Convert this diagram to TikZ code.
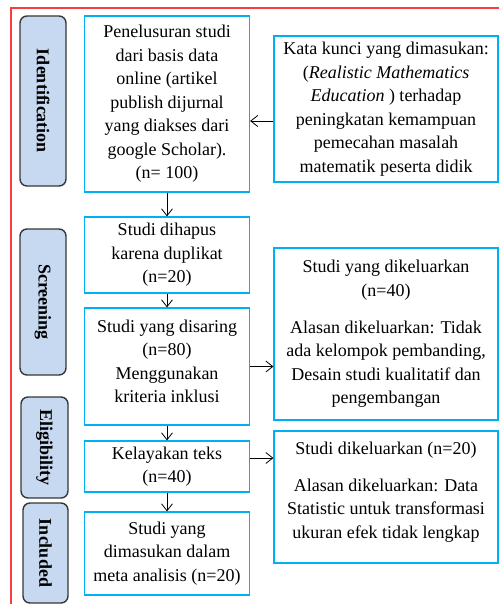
\documentclass[tikz,border=0pt]{standalone}
\usepackage{fontspec}
\setmainfont{Liberation Serif}
\usetikzlibrary{arrows.meta,positioning}

\definecolor{boxcyan}{RGB}{0,176,240}
\definecolor{stagefill}{RGB}{198,217,241}
\definecolor{stageline}{RGB}{55,55,55}
\definecolor{framered}{RGB}{250,60,60}

\begin{document}
\begin{tikzpicture}[x=1pt,y=-1pt]
\tikzstyle{stage}=[draw=stageline,fill=stagefill,line width=1.4pt,rounded corners=7pt,inner sep=0pt,font=\fontsize{18}{20}\selectfont\bfseries]
\tikzstyle{flowbox}=[draw=boxcyan,line width=1.2pt,inner sep=0pt,align=center,font=\fontsize{18}{23.5}\selectfont]
\tikzstyle{flow}=[-{Straight Barb[length=7pt,width=11pt]},line width=0.8pt]

\useasboundingbox (0,0) rectangle (499,604);

%% ========== FRAME ==========
\draw[framered,line width=1.2pt] (499,8) -- (11,8) -- (11,604);

%% ========== STAGES ==========
\node[stage,rotate=-90,minimum width=170pt,minimum height=46pt] (stage-id) at (43,101) {Identification};
\node[stage,rotate=-90,minimum width=146pt,minimum height=46pt] (stage-scr) at (43,302) {Screening};
\node[stage,rotate=-90,minimum width=101pt,minimum height=47pt] (stage-elig) at (44.5,447.5) {Eligibility};
\node[stage,rotate=-90,minimum width=100pt,minimum height=45pt] (stage-inc) at (45.5,553) {Included};

%% ========== MAIN FLOW ==========
\node[flowbox,minimum width=165pt,minimum height=176pt] (search) at (167,104)
  {Penelusuran studi\\dari basis data\\online (artikel\\publish dijurnal\\yang diakses dari\\google Scholar).\\(n= 100)};
\node[flowbox,minimum width=165pt,minimum height=76pt] (dup) at (167,255)
  {Studi dihapus\\karena duplikat\\(n=20)};
\node[flowbox,minimum width=165pt,minimum height=117pt,text depth=10pt] (screened) at (167,366.5)
  {Studi yang disaring\\(n=80)\\Menggunakan\\kriteria inklusi};
\node[flowbox,minimum width=165pt,minimum height=51pt] (fulltext) at (167,466.5)
  {Kelayakan teks\\(n=40)};
\node[flowbox,minimum width=165pt,minimum height=83pt] (included) at (167,553.5)
  {Studi yang\\dimasukan dalam\\meta analisis (n=20)};

%% ========== SIDE BOXES ==========
\node[flowbox,minimum width=224pt,minimum height=146pt] (keywords) at (386,109)
  {Kata kunci yang dimasukan:\\(\textit{Realistic Mathematics}\\\textit{Education} ) terhadap\\peningkatan kemampuan\\pemecahan masalah\\matematik peserta didik};
\node[flowbox,minimum width=224pt,minimum height=172pt] (excl-screen) at (386,334)
  {Studi yang dikeluarkan\\(n=40)\\[13.5pt]Alasan dikeluarkan: Tidak\\ada kelompok pembanding,\\Desain studi kualitatif dan\\pengembangan};
\node[flowbox,minimum width=224pt,minimum height=132pt,text depth=14pt] (excl-text) at (386,497)
  {Studi dikeluarkan (n=20)\\[13.5pt]Alasan dikeluarkan: Data\\Statistic untuk transformasi\\ukuran efek tidak lengkap};

%% ========== CONNECTIONS ==========
\draw[flow] (search) -- (dup);
\draw[flow] (dup) -- (screened);
\draw[flow] (screened) -- (fulltext);
\draw[flow] (fulltext) -- (included);

\coordinate (kw-out) at ([yshift=-12pt]keywords.west);
\coordinate (ft-out) at ([yshift=8.5pt]fulltext.east);
\draw[flow] (kw-out) -- (kw-out -| search.east);
\draw[flow] (screened.east) -- (screened.east -| excl-screen.west);
\draw[flow] (ft-out) -- (ft-out -| excl-text.west);

\end{tikzpicture}
\end{document}
